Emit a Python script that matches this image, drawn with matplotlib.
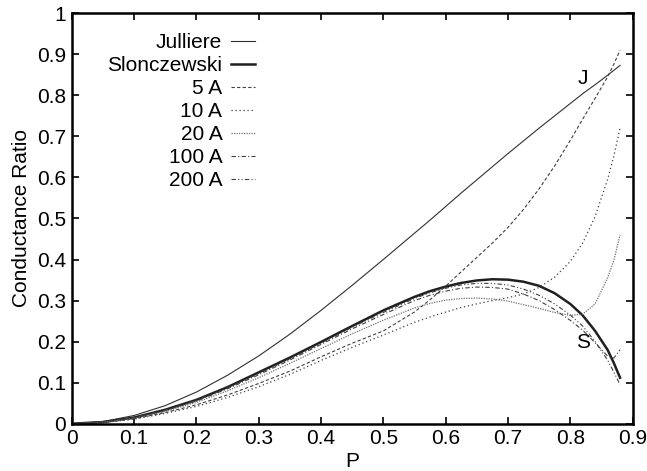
import matplotlib
matplotlib.use("Agg")
import matplotlib.pyplot as plt

plt.rcParams['font.family'] = ['Liberation Sans', 'DejaVu Sans']

# values
p = [0.0, 0.05, 0.1, 0.15, 0.2, 0.25, 0.3, 0.35, 0.4, 0.45, 0.5, 0.55, 0.575,
     0.6, 0.625, 0.65, 0.675, 0.7, 0.725, 0.75, 0.775, 0.8, 0.82, 0.84,
     0.86, 0.87, 0.88]
julliere = [0.0, 0.005, 0.020, 0.044, 0.077, 0.118, 0.165, 0.218, 0.276, 0.337,
            0.400, 0.464, 0.496, 0.529, 0.562, 0.594, 0.626, 0.658, 0.689,
            0.720, 0.750, 0.780, 0.804, 0.826, 0.849, 0.861, 0.873]
slonc = [0.0, 0.004, 0.015, 0.034, 0.058, 0.089, 0.125, 0.161, 0.199, 0.238,
         0.276, 0.309, 0.323, 0.334, 0.343, 0.349, 0.352, 0.351, 0.346,
         0.336, 0.318, 0.292, 0.264, 0.226, 0.180, 0.148, 0.112]
a5 = [0.0, 0.003, 0.012, 0.027, 0.046, 0.070, 0.098, 0.128, 0.163, 0.196,
      0.226, 0.272, 0.302, 0.335, 0.370, 0.405, 0.440, 0.478, 0.522,
      0.572, 0.628, 0.690, 0.742, 0.793, 0.845, 0.876, 0.910]
a10 = [0.0, 0.003, 0.011, 0.025, 0.042, 0.064, 0.090, 0.120, 0.154, 0.186,
       0.216, 0.247, 0.260, 0.272, 0.283, 0.292, 0.300, 0.307, 0.316,
       0.332, 0.357, 0.395, 0.440, 0.505, 0.595, 0.652, 0.720]
a20 = [0.0, 0.004, 0.013, 0.030, 0.052, 0.080, 0.112, 0.147, 0.183, 0.219,
       0.252, 0.282, 0.293, 0.301, 0.305, 0.306, 0.304, 0.299, 0.290,
       0.281, 0.271, 0.264, 0.267, 0.292, 0.355, 0.398, 0.460]
a100 = [0.0, 0.004, 0.014, 0.032, 0.055, 0.085, 0.119, 0.155, 0.193, 0.231,
        0.266, 0.300, 0.313, 0.323, 0.330, 0.333, 0.332, 0.328, 0.316,
        0.300, 0.278, 0.252, 0.228, 0.197, 0.165, 0.160, 0.180]
a200 = [0.0, 0.004, 0.015, 0.033, 0.057, 0.087, 0.122, 0.158, 0.196, 0.235,
        0.271, 0.305, 0.319, 0.330, 0.338, 0.342, 0.342, 0.338, 0.328,
        0.313, 0.292, 0.265, 0.238, 0.200, 0.155, 0.126, 0.095]

xticks = [0, 0.1, 0.2, 0.3, 0.4, 0.5, 0.6, 0.7, 0.8, 0.9]
xticklabels = ['0', '0.1', '0.2', '0.3', '0.4', '0.5', '0.6', '0.7', '0.8', '0.9']
yticks = [0, 0.1, 0.2, 0.3, 0.4, 0.5, 0.6, 0.7, 0.8, 0.9, 1]
yticklabels = ['0', '0.1', '0.2', '0.3', '0.4', '0.5', '0.6', '0.7', '0.8', '0.9', '1']

fig = plt.figure(figsize=(6.47, 4.71), dpi=100)
ax = fig.add_axes([0.1108, 0.1004, 0.8668, 0.8714])

ax.plot(p, julliere, color='#303030', lw=0.8, label='Julliere')
ax.plot(p, slonc, color='#202020', lw=1.8, label='Slonczewski')
ax.plot(p, a5, color='#404040', lw=0.8, dashes=(3, 2), label='5 A')
ax.plot(p, a10, color='#404040', lw=0.9, dashes=(1, 2.2), label='10 A')
ax.plot(p, a20, color='#707070', lw=0.9, dashes=(1, 1), label='20 A')
ax.plot(p, a100, color='#404040', lw=0.8, dashes=(4, 2, 1, 2), label='100 A')
ax.plot(p, a200, color='#404040', lw=0.8, dashes=(4, 2, 1, 2, 1, 2), label='200 A')

ax.text(0.821, 0.842, 'J', fontsize=15, ha='center', va='center')
ax.text(0.821, 0.197, 'S', fontsize=15, ha='center', va='center')

ax.set_xlim(0, 0.9)
ax.set_ylim(0, 1)
ax.set_xticks(xticks)
ax.set_xticklabels(xticklabels)
ax.set_yticks(yticks)
ax.set_yticklabels(yticklabels)
ax.tick_params(direction='in', length=5, width=1.2, labelsize=15,
               top=True, right=True, pad=4)
for s in ax.spines.values():
    s.set_linewidth(1.8)

ax.set_xlabel('P', fontsize=15, labelpad=3)
ax.set_ylabel('Conductance Ratio', fontsize=15, labelpad=4)

leg = ax.legend(loc='upper right', bbox_to_anchor=(265 / 647, 1 - 23 / 471),
                bbox_transform=fig.transFigure, frameon=False, markerfirst=False,
                fontsize=15, handlelength=1.15, handletextpad=0.4,
                labelspacing=0.19, borderpad=0)

fig.savefig('out.png', dpi=100)
